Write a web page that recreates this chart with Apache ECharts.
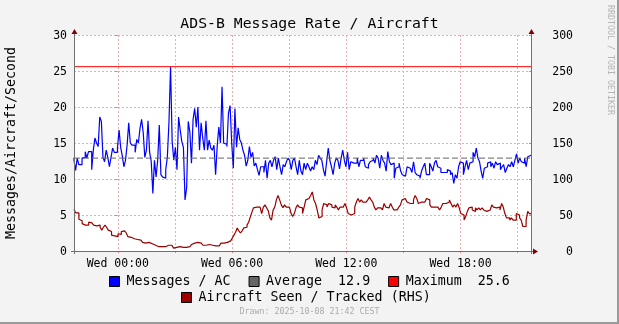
<!DOCTYPE html>
<html>
<head>
<meta charset="utf-8">
<script src="https://cdn.jsdelivr.net/npm/echarts@6/dist/echarts.min.js"></script>
<style>
  html, body { margin: 0; padding: 0; background: #f3f3f3; }
  #chart { width: 619px; height: 324px; }
</style>
</head>
<body>
<div id="chart"></div>
<script>
// ---- data -----------------------------------------------------------
const chartTitle = 'ADS-B Message Rate / Aircraft';
const yAxisTitle = 'Messages/Aircraft/Second';
const drawnStamp = 'Drawn: 2025-10-08 21:42 CEST';

// hours relative to Wed 00:00 (window Tue 21:42 .. Wed 21:42)
const timeStart = -2.3;
const timeEnd = 21.7;
const hourTicks = [0, 3, 6, 9, 12, 15, 18, 21];
const hourLabels = [0, 6, 12, 18];
const dayName = 'Wed';

const leftTicks = [0, 5, 10, 15, 20, 25, 30];
const rightTicks = [0, 50, 100, 150, 200, 250, 300];

// messages per aircraft per second, evenly spaced samples over the window
const messagesPerAc = [
  13.0,12.6,11.2,12.9,12.0,12.0,12.9,13.0,13.8,12.9,13.8,13.8,11.3,14.0,15.7,15.0,14.5,18.6,18.0,13.0,
  12.4,14.0,13.0,11.7,13.0,14.3,13.7,13.7,14.3,16.8,14.4,13.2,11.7,12.6,14.7,17.8,15.0,14.7,14.7,13.7,
  15.5,15.0,17.0,18.3,16.5,13.0,14.0,18.1,13.7,12.4,8.0,12.6,10.3,12.6,17.5,10.6,10.3,
  10.1,11.3,13.0,17.8,25.6,15.2,12.6,14.4,11.3,18.6,16.8,15.2,14.4,7.1,8.8,18.0,16.5,12.2,18.3,19.8,
  17.2,20.0,14.0,17.8,15.7,14.0,18.1,14.0,15.4,14.3,14.0,14.7,10.6,14.6,17.2,15.0,22.8,15.0,14.8,14.5,
  19.2,20.2,15.0,11.5,19.8,14.4,17.1,15.5,15.0,14.0,13.3,11.8,12.6,14.5,13.0,13.7,11.8,12.2,11.3,10.5,
  11.7,11.7,10.9,12.6,10.1,12.2,12.6,11.7,12.6,13.1,11.3,12.9,11.7,10.6,12.0,11.7,12.4,12.9,12.6,11.3,
  12.6,12.9,11.7,10.6,12.6,11.1,10.6,12.2,11.3,12.2,11.7,11.1,11.7,11.3,12.6,12.0,13.3,12.9,12.6,11.3,
  10.4,12.4,14.3,12.6,11.7,10.6,12.2,12.9,12.6,11.4,12.9,14.0,12.6,11.7,13.7,11.3,12.4,
  12.2,12.2,12.2,12.9,11.7,12.6,12.6,12.9,11.7,11.5,12.0,12.4,12.6,12.9,12.2,13.3,12.9,11.5,13.3,12.6,
  12.2,11.1,13.8,12.4,12.0,12.2,10.1,11.5,11.7,12.2,11.1,10.6,10.4,10.6,11.7,11.5,11.7,10.9,12.4,10.9,
  10.6,10.4,10.1,11.1,11.7,12.2,10.6,10.6,12.2,11.7,11.1,12.2,12.6,11.7,11.5,10.9,10.9,
  11.1,10.9,11.3,11.1,10.6,10.9,9.4,10.6,10.1,11.7,12.4,12.2,10.6,11.7,12.6,11.3,12.2,12.4,13.7,13.1,
  14.3,12.9,12.4,11.1,10.1,11.5,11.7,12.2,12.4,11.7,12.2,11.5,12.4,12.0,12.2,11.3,11.7,12.0,10.9,11.5,
  12.0,11.7,12.4,11.7,12.6,13.5,12.2,12.9,12.4,12.2,12.9,11.7,13.1,13.3
];

// aircraft seen / tracked (right-hand scale), evenly spaced samples over the window
const aircraftSeen = [
  58,58,53,53,44,42,38,36,36,36,40,39,37,36,35,34,36,33,29,33,36,33,29,27,22,21,20,20,24,23,
  27,28,28,25,20,19,17,17,17,16,17,15,13,12,11,11,12,12,10,8,8,7,6,6,6,6,6,
  7,8,8,8,7,4,5,6,6,5,5,6,5,5,6,7,9,11,11,12,12,11,10,8,8,9,9,9,8,8,7,6,7,9,11,11,12,12,13,14,
  15,18,22,26,32,28,25,28,32,33,36,40,47,54,60,61,
  61,61,61,52,61,64,60,56,46,43,57,61,71,77,71,64,60,64,61,61,60,52,48,52,60,64,61,60,52,61,
  71,73,75,77,82,71,66,57,46,48,57,66,64,61,66,64,61,60,64,61,57,61,61,61,66,60,52,50,
  52,52,61,68,73,68,71,68,68,68,71,75,71,68,61,57,60,60,61,57,66,61,60,61,66,61,57,57,57,61,
  64,71,73,75,68,66,64,66,71,77,73,66,68,66,68,68,73,71,64,61,61,60,61,60,57,61,66,
  66,66,68,71,66,61,64,61,66,60,52,50,43,48,55,60,61,57,55,60,57,60,57,60,57,55,57,57,55,64,
  61,60,60,61,57,66,61,52,46,46,43,46,43,43,52,50,46,43,34,34,43,55,52
];

const averageValue = 12.9;
const maximumValue = 25.6;

// ---- helpers --------------------------------------------------------
const MONO = '"DejaVu Sans Mono", "Liberation Mono", monospace';
function spread(values) {
  const step = (timeEnd - timeStart) / (values.length - 1);
  return values.map((v, i) => [timeStart + i * step, v]);
}
function flat(v) { return [[timeStart, v], [timeEnd, v]]; }
function hourLabel(h) { return dayName + ' ' + String(h).padStart(2, '0') + ':00'; }
function tickText(v) { return '{t|' + v + '}'; }

// plot frame
const P = { left: 74, top: 35, width: 457, height: 216 };
const PR = P.left + P.width, PB = P.top + P.height;
const axisGray = '#707070', arrowRed = '#7f0000';
const gridLine = { color: '#f0aaaa', type: [2, 2], width: 1 };
const tickRich = { t: { fontFamily: MONO, fontSize: 11.5, color: '#000', padding: [3, 0, 0, 0] } };

const chart = echarts.init(document.getElementById('chart'), null, { renderer: 'canvas' });

chart.setOption({
  backgroundColor: '#f3f3f3',
  animation: false,
  textStyle: { fontFamily: MONO },
  title: {
    text: chartTitle,
    left: 'center',
    top: 12,
    textStyle: { fontFamily: MONO, fontSize: 14.8, fontWeight: 'normal', color: '#000' }
  },
  grid: {
    left: P.left, top: P.top, width: P.width, height: P.height,
    outerBoundsMode: 'none', containLabel: false,
    show: true, backgroundColor: '#ffffff', borderWidth: 0
  },
  legend: [
    {
      data: ['Messages / AC', 'Average  12.9', 'Maximum  25.6'],
      left: 109, top: 275, padding: 0, itemGap: 18,
      itemWidth: 10, itemHeight: 10, icon: 'rect',
      itemStyle: { borderColor: '#000', borderWidth: 1 },
      textStyle: { fontFamily: MONO, fontSize: 13.3, color: '#000', padding: [0, 0, 0, 2] },
      selectedMode: false
    },
    {
      data: ['Aircraft Seen / Tracked (RHS)'],
      left: 181, top: 291, padding: 0,
      itemWidth: 10, itemHeight: 10, icon: 'rect',
      itemStyle: { borderColor: '#000', borderWidth: 1 },
      textStyle: { fontFamily: MONO, fontSize: 13.3, color: '#000', padding: [0, 0, 0, 2] },
      selectedMode: false
    }
  ],
  xAxis: {
    type: 'value',
    min: timeStart, max: timeEnd,
    axisLine: { show: false },
    axisTick: { show: true, customValues: hourTicks, length: 2, lineStyle: { color: '#e08080' } },
    axisLabel: {
      customValues: hourLabels, formatter: hourLabel, margin: 7,
      fontFamily: MONO, fontSize: 11.5, color: '#000'
    },
    splitLine: { show: true, lineStyle: gridLine }
  },
  yAxis: [
    {
      type: 'value', min: 0, max: 30, interval: 5,
      name: yAxisTitle, nameLocation: 'middle', nameGap: 56,
      nameTextStyle: { fontFamily: MONO, fontSize: 13.3, color: '#000' },
      axisLine: { show: false },
      axisTick: { show: true, length: 3, lineStyle: { color: '#e08080' } },
      axisLabel: {
        customValues: leftTicks, margin: 7, formatter: tickText, rich: tickRich
      },
      splitLine: { show: true, lineStyle: gridLine }
    },
    {
      type: 'value', min: 0, max: 300, interval: 50, position: 'right',
      axisLine: { show: false },
      axisTick: { show: true, length: 2, inside: true, lineStyle: { color: '#e08080' } },
      axisLabel: {
        customValues: rightTicks, margin: 42, align: 'right', formatter: tickText, rich: tickRich
      },
      splitLine: { show: false }
    }
  ],
  series: [
    {
      name: 'Messages / AC', type: 'line', yAxisIndex: 0, step: 'start',
      data: spread(messagesPerAc), showSymbol: false, symbol: 'none',
      lineStyle: { color: '#0000ff', width: 1.2 }, itemStyle: { color: '#0000ff' }
    },
    {
      name: 'Average  12.9', type: 'line', yAxisIndex: 0,
      data: flat(averageValue), showSymbol: false, symbol: 'none',
      lineStyle: { color: '#666666', width: 1, type: [6, 3] }, itemStyle: { color: '#666666' }
    },
    {
      name: 'Maximum  25.6', type: 'line', yAxisIndex: 0,
      data: flat(maximumValue), showSymbol: false, symbol: 'none',
      lineStyle: { color: '#ff0000', width: 1 }, itemStyle: { color: '#ff0000' }
    },
    {
      name: 'Aircraft Seen / Tracked (RHS)', type: 'line', yAxisIndex: 1, step: 'start',
      data: spread(aircraftSeen), showSymbol: false, symbol: 'none',
      lineStyle: { color: '#990000', width: 1.2 }, itemStyle: { color: '#990000' }
    }
  ],
  graphic: [
    // axis lines with arrow heads
    { type: 'line', shape: { x1: P.left + 0.5, y1: P.top - 2, x2: P.left + 0.5, y2: PB + 3 }, style: { stroke: axisGray, lineWidth: 1 }, z: 50 },
    { type: 'line', shape: { x1: PR + 0.5, y1: P.top - 2, x2: PR + 0.5, y2: PB + 3 }, style: { stroke: axisGray, lineWidth: 1 }, z: 50 },
    { type: 'line', shape: { x1: P.left - 3, y1: PB + 0.5, x2: PR + 4, y2: PB + 0.5 }, style: { stroke: axisGray, lineWidth: 1 }, z: 50 },
    { type: 'polygon', shape: { points: [[P.left + 0.5, P.top - 6], [P.left - 2.5, P.top - 1], [P.left + 3.5, P.top - 1]] }, style: { fill: arrowRed }, z: 51 },
    { type: 'polygon', shape: { points: [[PR + 0.5, P.top - 6], [PR - 2.5, P.top - 1], [PR + 3.5, P.top - 1]] }, style: { fill: arrowRed }, z: 51 },
    { type: 'polygon', shape: { points: [[PR + 7, PB + 0.5], [PR + 2, PB - 2.5], [PR + 2, PB + 3.5]] }, style: { fill: arrowRed }, z: 51 },
    // footer and side stamp
    { type: 'text', x: 309.5, y: 312, style: { text: drawnStamp, font: '8.3px ' + MONO, fill: '#ababab', align: 'center', verticalAlign: 'middle' } },
    { type: 'text', x: 614, y: 5, rotation: -Math.PI / 2, style: { text: 'RRDTOOL / TOBI OETIKER', font: '8.3px ' + MONO, fill: '#b4b4b4', align: 'left', verticalAlign: 'top' } },
    // frame shading
    { type: 'rect', shape: { x: 617, y: 0, width: 2, height: 324 }, style: { fill: '#9a9a9a' } },
    { type: 'rect', shape: { x: 0, y: 322, width: 619, height: 2 }, style: { fill: '#9a9a9a' } }
  ]
});
</script>
</body>
</html>
